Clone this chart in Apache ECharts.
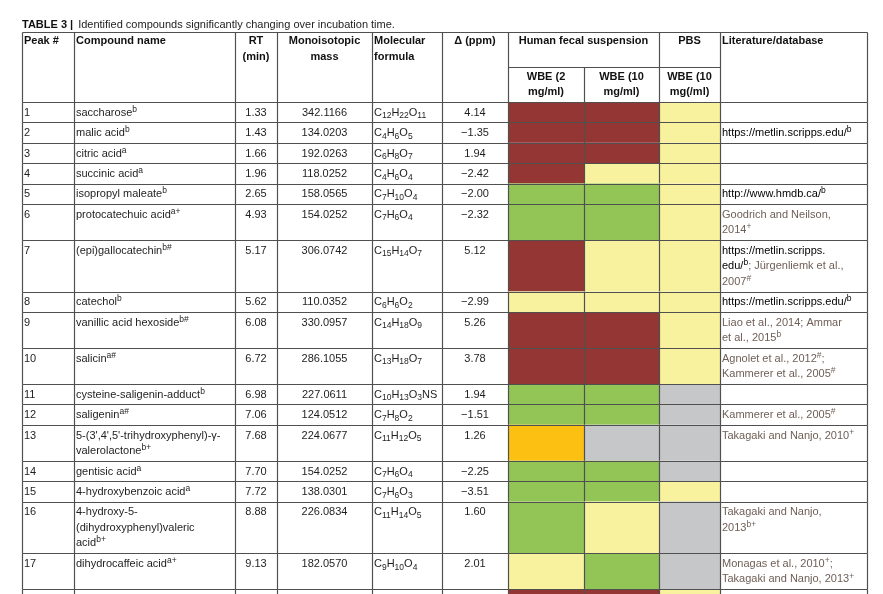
<!DOCTYPE html>
<html>
<head>
    <meta charset="UTF-8">
    <title>TABLE 3</title>
</head>
<body style="margin: 0; background: #fff">
<div id="container" style="width: 883px; height: 594px"></div>
<script src="https://cdn.jsdelivr.net/npm/echarts@6/dist/echarts.min.js"></script>
<script>
    // ---- table content ----
    const peaks = [1, 2, 3, 4, 5, 6, 7, 8, 9, 10, 11, 12, 13, 14, 15, 16, 17];
    const compounds = [
        'saccharose', 'malic acid', 'citric acid', 'succinic acid', 'isopropyl maleate',
        'protocatechuic acid', '(epi)gallocatechin', 'catechol', 'vanillic acid hexoside', 'salicin',
        'cysteine-saligenin-adduct', 'saligenin', "5-(3',4',5'-trihydroxyphenyl)-γ-\nvalerolactone",
        'gentisic acid', '4-hydroxybenzoic acid', '4-hydroxy-5-\n(dihydroxyphenyl)valeric\nacid',
        'dihydrocaffeic acid'
    ];
    const compoundNotes = ['b', 'b', 'a', 'a', 'b', 'a+', 'b#', 'b', 'b#', 'a#', 'b', 'a#', 'b+', 'a', 'a', 'b+', 'a+'];
    const rtMin = [1.33, 1.43, 1.66, 1.96, 2.65, 4.93, 5.17, 5.62, 6.08, 6.72, 6.98, 7.06, 7.68, 7.70, 7.72, 8.88, 9.13];
    const monoMass = [342.1166, 134.0203, 192.0263, 118.0252, 158.0565, 154.0252, 306.0742, 110.0352, 330.0957,
        286.1055, 227.0611, 124.0512, 224.0677, 154.0252, 138.0301, 226.0834, 182.0570];
    const formulas = ['C12H22O11', 'C4H6O5', 'C6H8O7', 'C4H6O4', 'C7H10O4', 'C7H6O4', 'C15H14O7', 'C6H6O2',
        'C14H18O9', 'C13H18O7', 'C10H13O3NS', 'C7H8O2', 'C11H12O5', 'C7H6O4', 'C7H6O3', 'C11H14O5', 'C9H10O4'];
    const deltaPpm = [4.14, -1.35, 1.94, -2.42, -2.00, -2.32, 5.12, -2.99, 5.26, 3.78, 1.94, -1.51, 1.26, -2.25, -3.51, 1.60, 2.01];
    // R = dark red, Y = yellow, G = green, O = orange, N = grey (18th row is cut off at the bottom)
    const wbe2Fecal = ['R', 'R', 'R', 'R', 'G', 'G', 'R', 'Y', 'R', 'R', 'G', 'G', 'O', 'G', 'G', 'G', 'Y', 'R'];
    const wbe10Fecal = ['R', 'R', 'R', 'Y', 'G', 'G', 'Y', 'Y', 'R', 'R', 'G', 'G', 'N', 'G', 'G', 'Y', 'G', 'R'];
    const wbe10Pbs = ['Y', 'Y', 'Y', 'Y', 'Y', 'Y', 'Y', 'Y', 'Y', 'Y', 'N', 'N', 'N', 'N', 'Y', 'N', 'N', 'Y'];
    const literature = [
        [],
        [['https://metlin.scripps.edu/', 'b']],
        [],
        [],
        [['http://www.hmdb.ca/', 'b']],
        [['Goodrich and Neilson,\n2014', '+']],
        [['https://metlin.scripps.\nedu/', 'b'], ['Jürgenliemk et al.,\n2007', '#']],
        [['https://metlin.scripps.edu/', 'b']],
        [['Liao et al., 2014', ''], ['Ammar\net al., 2015', 'b']],
        [['Agnolet et al., 2012', '#'], ['\nKammerer et al., 2005', '#']],
        [],
        [['Kammerer et al., 2005', '#']],
        [['Takagaki and Nanjo, 2010', '+']],
        [],
        [],
        [['Takagaki and Nanjo,\n2013', 'b+']],
        [['Monagas et al., 2010', '+'], ['\nTakagaki and Nanjo, 2013', '+']]
    ];

    // ---- layout ----
    const COL_W = [52, 161, 42, 95, 70, 66, 76, 75, 61, 147];
    const COL_X = [0];
    COL_W.forEach(function (w) { COL_X.push(COL_X[COL_X.length - 1] + w); });
    const HEAD_H = 35;
    const ROW_BASE = 20.4, ROW_LINE = 15.6;
    const FILL = {R: '#943634', G: '#92c556', Y: '#f8f29e', O: '#fcc012', N: '#c6c7c9'};
    const FAM = '"Liberation Sans", Arial, sans-serif';
    const INK = '#1e1e1e', REF_INK = '#6e5e56', RULE = '#505050';

    function fnt(size, weight) {
        return {fontSize: size, fontFamily: FAM, fontWeight: weight || 'normal',
            font: (weight || 'normal') + ' ' + size + 'px ' + FAM};
    }
    const RICH = {
        sup: Object.assign(fnt(8.5), {lineHeight: 6, verticalAlign: 'top', fill: INK}),
        sub: Object.assign(fnt(8.5), {lineHeight: 8, verticalAlign: 'bottom', fill: INK}),
        web: Object.assign(fnt(11), {fill: '#000'}),
        webSup: Object.assign(fnt(8.5), {lineHeight: 6, verticalAlign: 'top', fill: '#000'}),
        ref: Object.assign(fnt(11), {fill: REF_INK}),
        refSup: Object.assign(fnt(8.5), {lineHeight: 6, verticalAlign: 'top', fill: REF_INK})
    };

    function litParts(i) {
        const refs = literature[i] || [];
        let rich = '', plain = '';
        refs.forEach(function (ref, k) {
            const web = ref[0].indexOf('http') === 0;
            const st = web ? 'web' : 'ref';
            if (k > 0) {
                const sep = ref[0].charAt(0) === '\n' ? ';' : '; ';
                rich += '{' + st + '|' + sep + '}';
                plain += sep;
            }
            rich += '{' + st + '|' + ref[0] + '}';
            plain += ref[0] + ref[1];
            if (ref[1]) rich += '{' + st + 'Sup|' + ref[1] + '}';
        });
        return {rich: rich, plain: plain};
    }
    function fmt(v, d) {
        return v.toFixed(d).replace('-', '\u2212');
    }

    const nRows = wbe2Fecal.length;
    const rowTop = [], rowH = [];
    let acc = HEAD_H * 2;
    for (let i = 0; i < nRows; i++) {
        const a = i < compounds.length ? compounds[i].split('\n').length : 1;
        const b = litParts(i).plain.split('\n').length;
        const n = Math.max(a, b);
        rowTop.push(acc);
        rowH.push(ROW_BASE + ROW_LINE * (n - 1));
        acc += rowH[i];
    }

    const chart = echarts.init(document.getElementById('container'), null, {renderer: 'canvas'});

    function renderRow(params, api) {
        const r = api.value(0);
        const px = function (u) { return api.coord([u, 0])[0]; };
        const py = function (u) { return api.coord([0, u])[1]; };
        const crisp = function (v) { return Math.round(v) + 0.5; };
        const kids = [];
        function hLine(x0, x1, y) {
            kids.push({type: 'line', shape: {x1: crisp(px(x0)), y1: crisp(py(y)), x2: crisp(px(x1)), y2: crisp(py(y))},
                style: {stroke: RULE, lineWidth: 1.2}});
        }
        function vLine(x, y0, y1) {
            kids.push({type: 'line', shape: {x1: crisp(px(x)), y1: crisp(py(y0)), x2: crisp(px(x)), y2: crisp(py(y1))},
                style: {stroke: RULE, lineWidth: 1.2}});
        }
        function text(ux, uy, str, align, style, lh) {
            kids.push({type: 'text', x: px(ux), y: py(uy),
                style: Object.assign({text: str, align: align, verticalAlign: 'top', lineHeight: lh || 15.5,
                    fill: INK, rich: RICH}, style || fnt(11))});
        }
        const mid = function (c) { return (COL_X[c] + COL_X[c + 1]) / 2; };

        if (r < 0) {
            // header block
            const bold = Object.assign(fnt(11, 'bold'), {fill: '#111'});
            hLine(COL_X[0], COL_X[10], 0);
            hLine(COL_X[6], COL_X[9], HEAD_H);
            for (let c = 0; c <= 10; c++) {
                if (c === 7) vLine(COL_X[c], HEAD_H, HEAD_H * 2);
                else vLine(COL_X[c], 0, HEAD_H * 2);
            }
            text(COL_X[0] + 2, 1, 'Peak #', 'left', bold, 16);
            text(COL_X[1] + 2, 1, 'Compound name', 'left', bold, 16);
            text(mid(2), 1, 'RT\n(min)', 'center', bold, 16);
            text(mid(3), 1, 'Monoisotopic\nmass', 'center', bold, 16);
            text(COL_X[4] + 2, 1, 'Molecular\nformula', 'left', bold, 16);
            text(mid(5), 1, '\u0394 (ppm)', 'center', bold, 16);
            text((COL_X[6] + COL_X[8]) / 2, 1, 'Human fecal suspension', 'center', bold, 16);
            text(mid(8), 1, 'PBS', 'center', bold, 16);
            text(COL_X[9] + 2, 1, 'Literature/database', 'left', bold, 16);
            text(mid(6), HEAD_H + 2.5, 'WBE (2\nmg/ml)', 'center', bold, 15);
            text(mid(7), HEAD_H + 2.5, 'WBE (10\nmg/ml)', 'center', bold, 15);
            text(mid(8), HEAD_H + 2.5, 'WBE (10\nmg(/ml)', 'center', bold, 15);
            return {type: 'group', children: kids};
        }

        const top = rowTop[r], h = rowH[r];
        [wbe2Fecal, wbe10Fecal, wbe10Pbs].forEach(function (col, k) {
            const c = 6 + k;
            const p0 = api.coord([COL_X[c], top]);
            const sz = api.size([COL_W[c], h]);
            kids.push({type: 'rect', shape: {x: p0[0], y: p0[1], width: sz[0], height: sz[1]},
                style: {fill: FILL[col[r]]}});
        });
        hLine(COL_X[0], COL_X[10], top);
        for (let c = 0; c <= 10; c++) vLine(COL_X[c], top, top + h);

        if (r < peaks.length) {
            const ty = top + 3;
            text(COL_X[0] + 2, ty, String(peaks[r]), 'left');
            text(COL_X[1] + 2, ty, compounds[r] + '{sup|' + compoundNotes[r] + '}', 'left');
            text(mid(2), ty, rtMin[r].toFixed(2), 'center');
            text(mid(3), ty, monoMass[r].toFixed(4), 'center');
            text(COL_X[4] + 2, ty, formulas[r].replace(/(\d+)/g, '{sub|$1}'), 'left');
            text(mid(5), ty, fmt(deltaPpm[r], 2), 'center');
            const lit = litParts(r);
            if (lit.rich) text(COL_X[9] + 2, ty, lit.rich, 'left');
        }
        return {type: 'group', children: kids};
    }

    const rows = [[-1, 0]];
    for (let i = 0; i < nRows; i++) rows.push([i, 0]);

    const option = {
        animation: false,
        title: {
            text: '{b|TABLE 3 |} {n|Identified compounds significantly changing over incubation time.}',
            left: 22,
            top: 16,
            padding: 0,
            textStyle: {
                fontWeight: 'normal',
                rich: {
                    b: {fontSize: 11, fontWeight: 'bold', fontFamily: FAM, color: '#111', lineHeight: 14},
                    n: {fontSize: 11, fontWeight: 'normal', fontFamily: FAM, color: '#222', lineHeight: 14}
                }
            }
        },
        grid: {left: 22, right: 16, top: 32, bottom: 0},
        xAxis: {type: 'value', min: 0, max: COL_X[10], show: false},
        yAxis: {type: 'value', min: 0, max: 562, inverse: true, show: false},
        series: [{
            type: 'custom',
            renderItem: renderRow,
            data: rows,
            silent: true
        }]
    };

    chart.setOption(option);
</script>
</body>
</html>
